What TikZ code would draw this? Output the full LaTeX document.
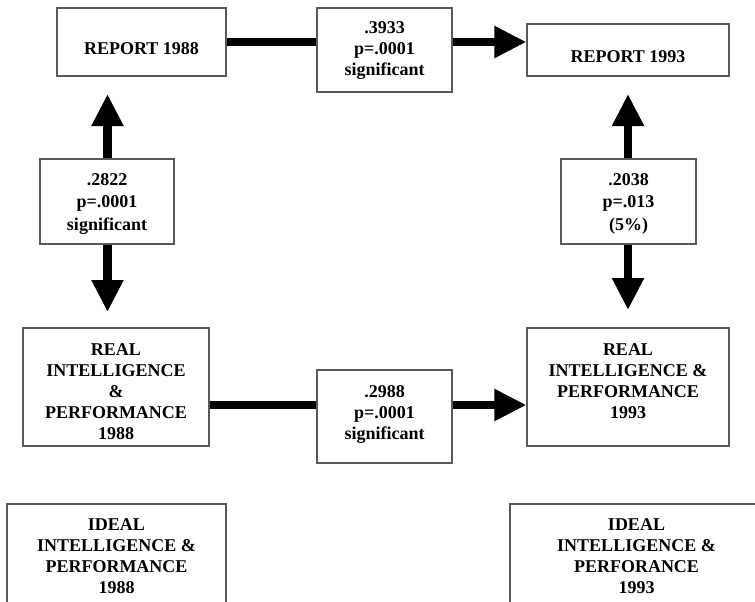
\documentclass[tikz,border=0pt]{standalone}
\usepackage{fontspec}
\setmainfont{Liberation Serif}
\usetikzlibrary{arrows.meta}

\begin{document}
\begin{tikzpicture}[x=1pt,y=-1pt,
  box/.style={draw=black!65, line width=1.1pt, fill=white, inner sep=0pt},
  txt/.style={font=\bfseries\fontsize{18}{21}\selectfont, align=center, inner sep=0pt, anchor=north},
  link/.style={line width=8.5pt, black},
  tip/.style={-{Triangle[length=32pt,width=30pt]}}]

\fill[white] (0,0) rectangle (755,602);
\useasboundingbox (0,0) rectangle (755,602);
\clip (0,0) rectangle (755,602);

% variable boxes
\node (r88) [box, minimum width=169pt, minimum height=68pt] at (141.5,42) {};
\node (r93) [box, minimum width=202pt, minimum height=52pt] at (628,50) {};
\node (re88) [box, minimum width=186pt, minimum height=118pt] at (116,387) {};
\node (re93) [box, minimum width=202pt, minimum height=118pt] at (628,387) {};
\node (id88) [box, minimum width=219pt, minimum height=130pt] at (116.5,569) {};
\node (id93) [box, minimum width=260pt, minimum height=130pt] at (640,569) {};

% coefficient boxes
\node (s1) [box, minimum width=135pt, minimum height=84pt] at (384.5,50) {};
\node (s2) [box, minimum width=134pt, minimum height=85pt] at (107,201.5) {};
\node (s4) [box, minimum width=135pt, minimum height=85pt] at (628.5,201.5) {};
\node (s3) [box, minimum width=135pt, minimum height=93pt] at (384.5,416.5) {};

% texts
\node (r88t) [txt] at (141.5,42) {REPORT 1988};
\node (r93t) [txt] at (628,50) {REPORT 1993};
\node (re88t) [txt] at (116,343) {REAL\\INTELLIGENCE\\\&\\PERFORMANCE\\1988};
\node (re93t) [txt] at (628,343) {REAL\\INTELLIGENCE \&\\PERFORMANCE\\1993};
\node (id88t) [txt] at (116.5,518) {IDEAL\\INTELLIGENCE \&\\PERFORMANCE\\1988};
\node (id93t) [txt] at (636.5,518) {IDEAL\\INTELLIGENCE \&\\PERFORANCE\\1993};
\node (s1t) [txt] at (384.5,21) {.3933\\p=.0001\\significant};
\node (s2t) [txt, font=\bfseries\fontsize{18}{22.5}\selectfont] at (107,173) {.2822\\p=.0001\\significant};
\node (s4t) [txt, font=\bfseries\fontsize{18}{22.5}\selectfont] at (628.5,173) {.2038\\p=.013\\(5\%)};
\node (s3t) [txt] at (384.5,385) {.2988\\p=.0001\\significant};

% arrow end points and rows
\coordinate (toprow) at (0,42);
\coordinate (lowrow) at (0,405);
\coordinate (u1) at (107.5,94);
\coordinate (d1) at (107.5,312);
\coordinate (u2) at (628,94);
\coordinate (d2) at (628,310);

% connectors
\draw[link] (r88.east |- toprow) -- (s1.west |- toprow);
\draw[link, tip] (s1.east |- toprow) -- (r93.west |- toprow);
\draw[link] (re88.east |- lowrow) -- (s3.west |- lowrow);
\draw[link, tip] (s3.east |- lowrow) -- (re93.west |- lowrow);
\draw[link, tip] (s2.north -| u1) -- (u1);
\draw[link, tip] (s2.south -| d1) -- (d1);
\draw[link, tip] (s4.north -| u2) -- (u2);
\draw[link, tip] (s4.south -| d2) -- (d2);
\end{tikzpicture}
\end{document}
